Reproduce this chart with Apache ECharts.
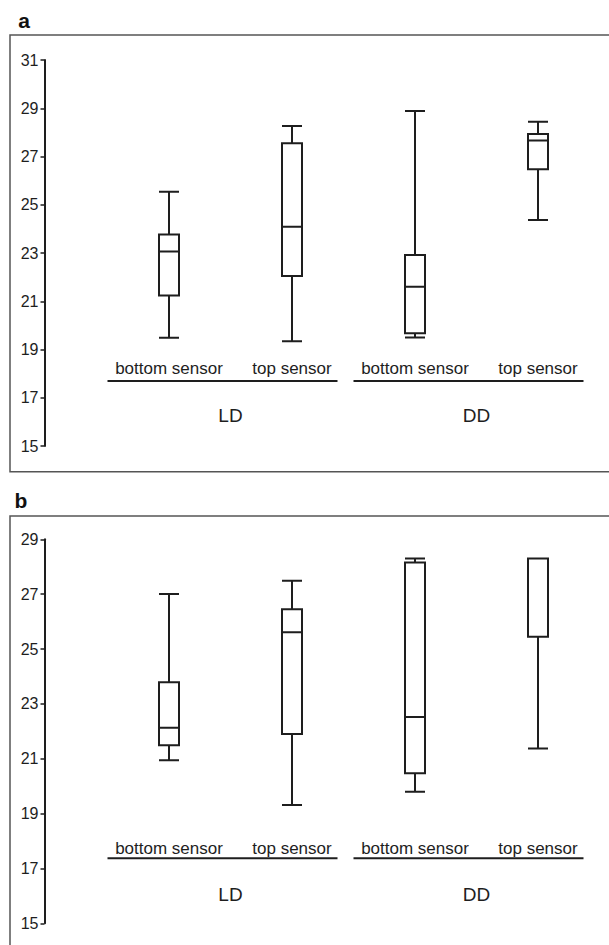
<!DOCTYPE html>
<html>
<head>
<meta charset="utf-8">
<title>Sensor temperatures LD / DD</title>
<script src="https://cdn.jsdelivr.net/npm/echarts@6/dist/echarts.min.js"></script>
<style>
	html, body { margin: 0; padding: 0; background: #fff; }
	#chart { width: 609px; height: 945px; }
</style>
</head>
<body>
<div id="chart"></div>
<script>
	// categories
	const sensors = ['bottom sensor', 'top sensor', 'bottom sensor ', 'top sensor '];
	const groups = ['LD', 'DD'];

	// boxes: [min, Q1, median, Q3, max]
	const panelA = [
		[19.49, 21.24, 23.06, 23.77, 25.54],
		[19.34, 22.05, 24.09, 27.55, 28.26],
		[19.50, 19.67, 21.60, 22.92, 28.89],
		[24.37, 26.47, 27.66, 27.93, 28.44]
	];
	const panelB = [
		[20.94, 21.49, 22.13, 23.79, 27.01],
		[19.31, 21.90, 25.61, 26.45, 27.49],
		[19.80, 20.47, 22.52, 28.15, 28.30],
		[21.37, 25.45, 28.30, 28.30, 28.30]
	];

	// y axis ticks
	const yTicksA = { min: 15, max: 31, interval: 2 };
	const yTicksB = { min: 15, max: 29, interval: 2 };

	const ink = '#1e1e1e';
	const font = 'Liberation Sans, Arial, sans-serif';

	const grids = [
		{ left: 107.5, width: 492, top: 60, height: 386 },
		{ left: 107.5, width: 492, top: 539.3, height: 384 }
	];

	function yAxis(idx, ticks) {
		return {
			type: 'value',
			gridIndex: idx,
			min: ticks.min,
			max: ticks.max,
			interval: ticks.interval,
			offset: 63,
			splitLine: { show: false },
			axisLine: { show: true, lineStyle: { color: ink, width: 2 } },
			axisTick: { show: true, length: 4, lineStyle: { color: ink, width: 1.5 } },
			axisLabel: { color: ink, fontSize: 16, fontFamily: font, margin: 6 }
		};
	}

	function sensorAxis(idx, off) {
		return {
			type: 'category',
			gridIndex: idx,
			data: sensors,
			position: 'bottom',
			offset: off,
			axisLine: { show: false },
			axisTick: { show: false },
			axisLabel: {
				interval: 0,
				color: ink, fontSize: 17, fontFamily: font, margin: 0,
				formatter: v => v.trim()
			}
		};
	}

	function groupAxis(idx, off) {
		return {
			type: 'category',
			gridIndex: idx,
			data: groups,
			position: 'bottom',
			offset: off,
			axisLine: { show: false },
			axisTick: { show: false },
			axisLabel: { interval: 0, color: ink, fontSize: 19, fontFamily: font, margin: 0 }
		};
	}

	function boxSeries(axisIdx, data) {
		return {
			type: 'boxplot',
			xAxisIndex: axisIdx,
			yAxisIndex: axisIdx === 0 ? 0 : 1,
			data: data,
			boxWidth: [20, 20],
			silent: true,
			itemStyle: { color: '#fff', borderColor: ink, borderWidth: 2 }
		};
	}

	const chart = echarts.init(document.getElementById('chart'), null, { renderer: 'svg' });

	chart.setOption({
		animation: false,
		backgroundColor: '#fff',
		grid: grids,
		xAxis: [
			sensorAxis(0, -86),
			groupAxis(0, -40.5),
			sensorAxis(1, -83),
			groupAxis(1, -38)
		],
		yAxis: [yAxis(0, yTicksA), yAxis(1, yTicksB)],
		series: [boxSeries(0, panelA), boxSeries(2, panelB)]
	});

	// frames, panel letters and group underlines
	const deco = [
		{ type: 'rect', shape: { x: 10, y: 35, width: 620, height: 436.7 },
			style: { fill: 'none', stroke: '#555', lineWidth: 1.5 } },
		{ type: 'rect', shape: { x: 10, y: 516, width: 620, height: 450 },
			style: { fill: 'none', stroke: '#555', lineWidth: 1.5 } },
		{ type: 'text', x: 24, y: 20,
			style: { text: 'a', fill: '#111', font: 'bold 21px ' + font, align: 'center', verticalAlign: 'middle' } },
		{ type: 'text', x: 21, y: 500,
			style: { text: 'b', fill: '#111', font: 'bold 21px ' + font, align: 'center', verticalAlign: 'middle' } }
	];

	[[1, 0], [3, 1]].forEach(([axisIdx, g]) => {
		const bottom = grids[g].top + grids[g].height;
		groups.forEach(name => {
			const cx = chart.convertToPixel({ xAxisIndex: axisIdx }, name) - 8;
			deco.push({
				type: 'line',
				shape: { x1: cx - 115, y1: bottom - 65, x2: cx + 115, y2: bottom - 65 },
				style: { stroke: ink, lineWidth: 2 }
			});
		});
	});

	chart.setOption({ graphic: deco });
</script>
</body>
</html>
